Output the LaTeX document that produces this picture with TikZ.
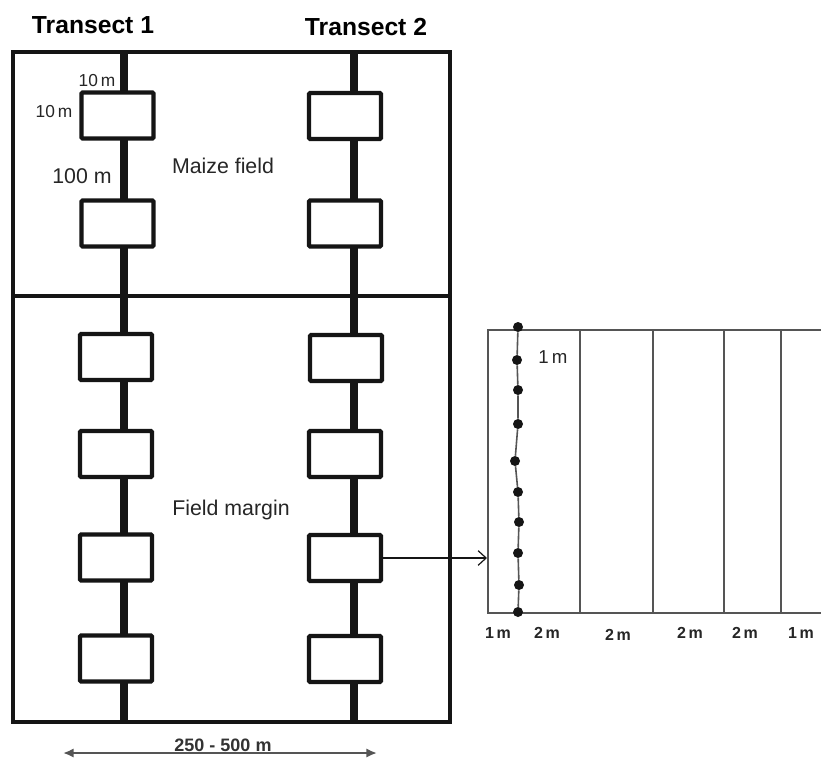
\documentclass[tikz,border=0pt]{standalone}
\usepackage{fontspec}
\setmainfont{Liberation Sans}
\usetikzlibrary{arrows.meta}
\definecolor{ink}{HTML}{151515}
\definecolor{pgray}{HTML}{555555}
\begin{document}
\begin{tikzpicture}[x=0.75pt,y=-0.75pt,
  plotbox/.style={draw=ink, line width=3.3pt, fill=white, minimum width=54pt, minimum height=34.5pt, inner sep=0pt, rounded corners=1pt},
  transect/.style={draw=ink, line width=6pt},
  fieldline/.style={draw=ink, line width=2.6pt},
  panelline/.style={draw=pgray, line width=1.5pt},
  lbl/.style={inner sep=0pt, text=black!85},
  title/.style={inner sep=0pt, font=\bfseries\fontsize{18.5}{21}\selectfont},
  dot/.style={circle, fill=ink, inner sep=0pt, minimum size=7.5pt},
  small/.style={inner sep=0pt, font=\bfseries\fontsize{12}{14}\selectfont, text=black!85}]
\useasboundingbox (0,0) rectangle (821,758);
\fill[white] (0,0) rectangle (821,758);

% titles
\node[title] (t1) at (93,25) {Transect 1};
\node[title] (t2) at (366,27) {Transect 2};

% field outline
\coordinate (fTL) at (13,52);
\coordinate (fBR) at (450,722);
\coordinate (dL) at (13,296);
\coordinate (dR) at (450,296);

% transect lines
\coordinate (tA1) at (124,52);
\coordinate (tA2) at (124,722);
\coordinate (tB1) at (354,52);
\coordinate (tB2) at (354,722);
\draw[transect] (tA1) -- (tA2);
\draw[transect] (tB1) -- (tB2);

\draw[fieldline] (fTL) rectangle (fBR);
\draw[fieldline] (dL) -- (dR);

% plots transect 1
\node[plotbox] (a1) at (117.5,115.5) {};
\node[plotbox] (a2) at (117.5,223.5) {};
\node[plotbox] (a3) at (116,357) {};
\node[plotbox] (a4) at (116,454) {};
\node[plotbox] (a5) at (116,557.5) {};
\node[plotbox] (a6) at (116,658.5) {};
% plots transect 2
\node[plotbox] (b1) at (345,116) {};
\node[plotbox] (b2) at (345,223.5) {};
\node[plotbox] (b3) at (346,358) {};
\node[plotbox] (b4) at (345,454) {};
\node[plotbox] (b5) at (345,558) {};
\node[plotbox] (b6) at (345,659) {};

% labels in field
\node[lbl, font=\fontsize{13}{15}\selectfont] (l10a) at (97,81) {10\,m};
\node[lbl, font=\fontsize{13}{15}\selectfont] (l10b) at (54,112) {10\,m};
\node[lbl, font=\fontsize{16}{19}\selectfont] (l100) at (82,176) {100 m};
\node[lbl, font=\fontsize{16}{19}\selectfont] (maize) at (223,166) {Maize field};
\node[lbl, font=\fontsize{16}{19}\selectfont] (margin) at (231,510) {Field margin};

% detail panel
\coordinate (pTR) at (821,330);
\coordinate (pTL) at (488,330);
\coordinate (pBL) at (488,613);
\coordinate (pBR) at (821,613);
\draw[panelline] (pTR) -- (pTL) -- (pBL) -- (pBR);
\foreach \x/\n in {580/v1,653/v2,724/v3,781/v4}{
  \coordinate (\n t) at (\x,330);
  \coordinate (\n b) at (\x,613);
  \draw[panelline, line width=1.2pt] (\n t) -- (\n b);
}
% dotted sampling line
\foreach \y/\dx [count=\i] in {327/0,360/-1,390/0,424/0,461/-3,492/0,522/1,553/0,585/1,612/0}{
  \node[dot] (d\i) at (518+\dx,\y) {};
}
\draw[panelline, line width=1.2pt] (d1) -- (d2) -- (d3) -- (d4) -- (d5) -- (d6) -- (d7) -- (d8) -- (d9) -- (d10);

\node[lbl, font=\fontsize{14}{16}\selectfont] (one) at (553,357) {1\,m};
\node[small] (s1) at (498,633) {1\,m};
\node[small] (s2) at (547,633) {2\,m};
\node[small] (s3) at (618,635) {2\,m};
\node[small] (s4) at (690,633) {2\,m};
\node[small] (s5) at (745,633) {2\,m};
\node[small] (s6) at (801,633) {1\,m};

% connector from plot to panel
\coordinate (pin) at (487,558);
\draw[draw=ink, line width=0.9pt, -{Straight Barb[length=6pt,width=11pt]}] (b5.east) -- (pin);

% width dimension
\coordinate (wL) at (63,753);
\coordinate (wR) at (377,753);
\draw[draw=pgray, line width=1.8pt, {Latex[length=8pt,width=7pt]}-{Latex[length=8pt,width=7pt]}] (wL) -- (wR);
\node[inner sep=0pt, font=\bfseries\fontsize{13.5}{16}\selectfont, text=black!80] (wlab) at (223,745) {250 - 500 m};
\end{tikzpicture}
\end{document}
